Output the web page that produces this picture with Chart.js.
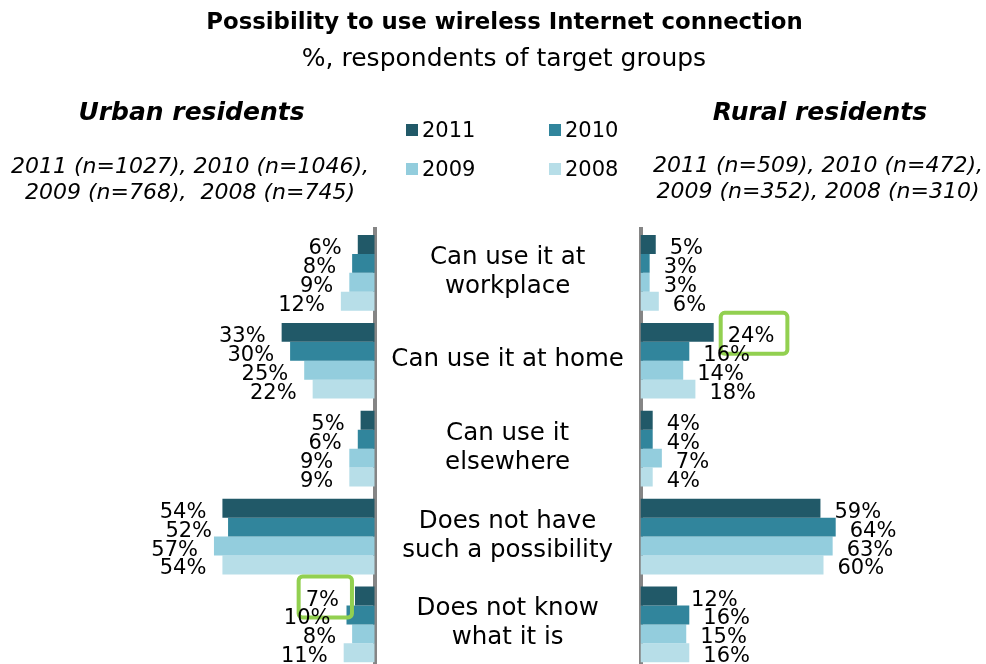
<!DOCTYPE html>
<html>
<head>
<meta charset="utf-8">
<title>Possibility to use wireless Internet connection</title>
<script src="https://cdn.jsdelivr.net/npm/chart.js@4"></script>
<style>
  html, body { margin: 0; padding: 0; background: #fff; overflow: hidden; }
  #wrap { position: relative; width: 986px; height: 664px; overflow: hidden;
          font-family: "DejaVu Sans", Verdana, sans-serif; color: #000; }
  canvas { position: absolute; left: 0; top: 0; }
  .t { position: absolute; white-space: pre; line-height: 1; transform: translateX(-50%); }
  .lg { position: absolute; white-space: pre; line-height: 1; font-size: 21px; }
  .sw { position: absolute; width: 12px; height: 12px; }
</style>
</head>
<body>
<div id="wrap">
  <canvas id="urban" width="986" height="700"></canvas>
  <canvas id="rural" width="986" height="700"></canvas>
</div>
<script>
// ---- data ----
const categories = [
  ["Can use it at", "workplace"],
  ["Can use it at home"],
  ["Can use it", "elsewhere"],
  ["Does not have", "such a possibility"],
  ["Does not know", "what it is"]
];
const years = ["2011", "2010", "2009", "2008"];

const urban2011 = [6, 33, 5, 54, 7];
const urban2010 = [8, 30, 6, 52, 10];
const urban2009 = [9, 25, 9, 57, 8];
const urban2008 = [12, 22, 9, 54, 11];

const rural2011 = [5, 24, 4, 59, 12];
const rural2010 = [3, 16, 4, 64, 16];
const rural2009 = [3, 14, 7, 63, 15];
const rural2008 = [6, 18, 4, 60, 16];

const urbanSamples = ["2011 (n=1027), 2010 (n=1046),", "2009 (n=768),  2008 (n=745)"];
const ruralSamples = ["2011 (n=509), 2010 (n=472),", "2009 (n=352), 2008 (n=310)"];

// values framed with a green box: [year, category index]
const urbanHighlight = [["2011", 4]];
const ruralHighlight = [["2011", 1]];

// ---- styling ----
const seriesColors = ["#215968", "#31859C", "#93CDDD", "#B7DEE8"];
const axisColor = "#858585";
const FONT = '"DejaVu Sans", Verdana, sans-serif';

// ---- header texts and legend ----
const wrap = document.getElementById('wrap');
function addText(text, cx, baseline, size, style) {
  const d = document.createElement('div');
  d.className = 't';
  d.textContent = text;
  d.style.fontSize = size + 'px';
  d.style.left = cx + 'px';
  d.style.top = (baseline - 0.846 * size) + 'px';
  if (style) Object.assign(d.style, style);
  wrap.appendChild(d);
}
addText("Possibility to use wireless Internet connection", 504.5, 29.3, 22.8, { fontWeight: 'bold' });
addText("%, respondents of target groups", 504, 65.7, 25);
addText("Urban residents", 191.5, 120, 25, { fontWeight: 'bold', fontStyle: 'italic' });
addText("Rural residents", 820, 120, 25, { fontWeight: 'bold', fontStyle: 'italic' });
addText(urbanSamples[0], 190, 173.3, 22, { fontStyle: 'italic' });
addText(urbanSamples[1], 190, 200, 22, { fontStyle: 'italic' });
addText(ruralSamples[0], 818, 172.3, 22, { fontStyle: 'italic' });
addText(ruralSamples[1], 818, 198.3, 22, { fontStyle: 'italic' });

// legend: two columns, two rows
const legendCols = [406, 549];
const legendRows = [138, 176.7];
years.forEach((y, k) => {
  const x = legendCols[k % 2];
  const base = legendRows[Math.floor(k / 2)];
  const sw = document.createElement('div');
  sw.className = 'sw';
  sw.style.background = seriesColors[k];
  sw.style.left = x + 'px';
  sw.style.top = (base - 14) + 'px';
  wrap.appendChild(sw);
  const lb = document.createElement('div');
  lb.className = 'lg';
  lb.textContent = y;
  lb.style.left = (x + 16) + 'px';
  lb.style.top = (base - 0.846 * 21) + 'px';
  wrap.appendChild(lb);
});

// ---- plugins ----
// percentage labels at the end of each bar, with optional green frame
const valueLabels = {
  id: 'valueLabels',
  afterDatasetsDraw(chart, args, opts) {
    const ctx = chart.ctx;
    ctx.save();
    ctx.font = '21px ' + FONT;
    ctx.textBaseline = 'alphabetic';
    ctx.textAlign = 'left';
    const items = [];
    chart.data.datasets.forEach((ds, di) => {
      const meta = chart.getDatasetMeta(di);
      meta.data.forEach((bar, i) => {
        const text = ds.data[i] + '%';
        const w = ctx.measureText(text).width;
        const left = opts.side === 'left' ? bar.x - opts.gap - w : bar.x + opts.gap;
        const base = bar.y + 9.5;
        const framed = (opts.highlight || []).some(h => h[0] === ds.label && h[1] === i);
        items.push({ text, left, base, w, framed });
      });
    });
    items.filter(it => it.framed).forEach(it => {
      ctx.beginPath();
      ctx.lineWidth = 4;
      ctx.strokeStyle = '#92D050';
      ctx.roundRect(it.left - 7, it.base - 29, it.w + 20, 41, 4);
      ctx.stroke();
    });
    ctx.fillStyle = '#000';
    items.forEach(it => ctx.fillText(it.text, it.left, it.base));
    ctx.restore();
  }
};

// category names centred in the band between the two axes
const categoryLabels = {
  id: 'categoryLabels',
  afterDraw(chart) {
    const y = chart.scales.y;
    const ctx = chart.ctx;
    ctx.save();
    ctx.font = '24.5px ' + FONT;
    ctx.textAlign = 'center';
    ctx.textBaseline = 'alphabetic';
    ctx.fillStyle = '#000';
    const cx = (y.left + y.right) / 2;
    chart.data.labels.forEach((lab, i) => {
      const lines = Array.isArray(lab) ? lab : [lab];
      const c = y.getPixelForValue(i);
      if (lines.length === 1) {
        ctx.fillText(lines[0], cx, c + 5.5);
      } else {
        lines.forEach((ln, k) => ctx.fillText(ln, cx, c - 9 + k * 29));
      }
    });
    ctx.restore();
  }
};

function makeDatasets(series) {
  return series.map((d, k) => ({
    label: years[k],
    data: d,
    backgroundColor: seriesColors[k],
    borderWidth: 0,
    categoryPercentage: 0.861,
    barPercentage: 1
  }));
}

const AXIS_L = 374.7;   // urban axis line
const AXIS_R = 640.5;   // rural axis line
const TOP = 228.9, BOTTOM_PAD = 31.6;
const URBAN_PX = 2.82, RURAL_PX = 3.05;  // pixels per percent

Chart.defaults.font.family = FONT;

new Chart(document.getElementById('urban'), {
  type: 'bar',
  data: { labels: categories, datasets: makeDatasets([urban2011, urban2010, urban2009, urban2008]) },
  options: {
    indexAxis: 'y',
    responsive: false,
    animation: false,
    devicePixelRatio: 1,
    layout: { padding: { left: AXIS_L - 100 * URBAN_PX, right: 986 - AXIS_L, top: TOP, bottom: BOTTOM_PAD } },
    plugins: {
      legend: { display: false },
      tooltip: { enabled: false },
      valueLabels: { side: 'left', gap: 16, highlight: urbanHighlight }
    },
    scales: {
      x: { display: false, min: 0, max: 100, reverse: true },
      y: {
        position: 'right',
        z: 1,
        ticks: { display: false },
        grid: { display: false, drawTicks: false },
        border: { display: true, color: axisColor, width: 4 },
        afterFit(s) { s.width = 0; }
      }
    }
  },
  plugins: [valueLabels]
});

new Chart(document.getElementById('rural'), {
  type: 'bar',
  data: { labels: categories, datasets: makeDatasets([rural2011, rural2010, rural2009, rural2008]) },
  options: {
    indexAxis: 'y',
    responsive: false,
    animation: false,
    devicePixelRatio: 1,
    layout: { padding: { left: AXIS_L, right: 986 - AXIS_R - 100 * RURAL_PX, top: TOP, bottom: BOTTOM_PAD } },
    plugins: {
      legend: { display: false },
      tooltip: { enabled: false },
      valueLabels: { side: 'right', gap: 14, highlight: ruralHighlight }
    },
    scales: {
      x: { display: false, min: 0, max: 100 },
      y: {
        position: 'left',
        z: 1,
        ticks: { display: false },
        grid: { display: false, drawTicks: false },
        border: { display: true, color: axisColor, width: 4 },
        afterFit(s) { s.width = AXIS_R - AXIS_L; }
      }
    }
  },
  plugins: [valueLabels, categoryLabels]
});
</script>
</body>
</html>
